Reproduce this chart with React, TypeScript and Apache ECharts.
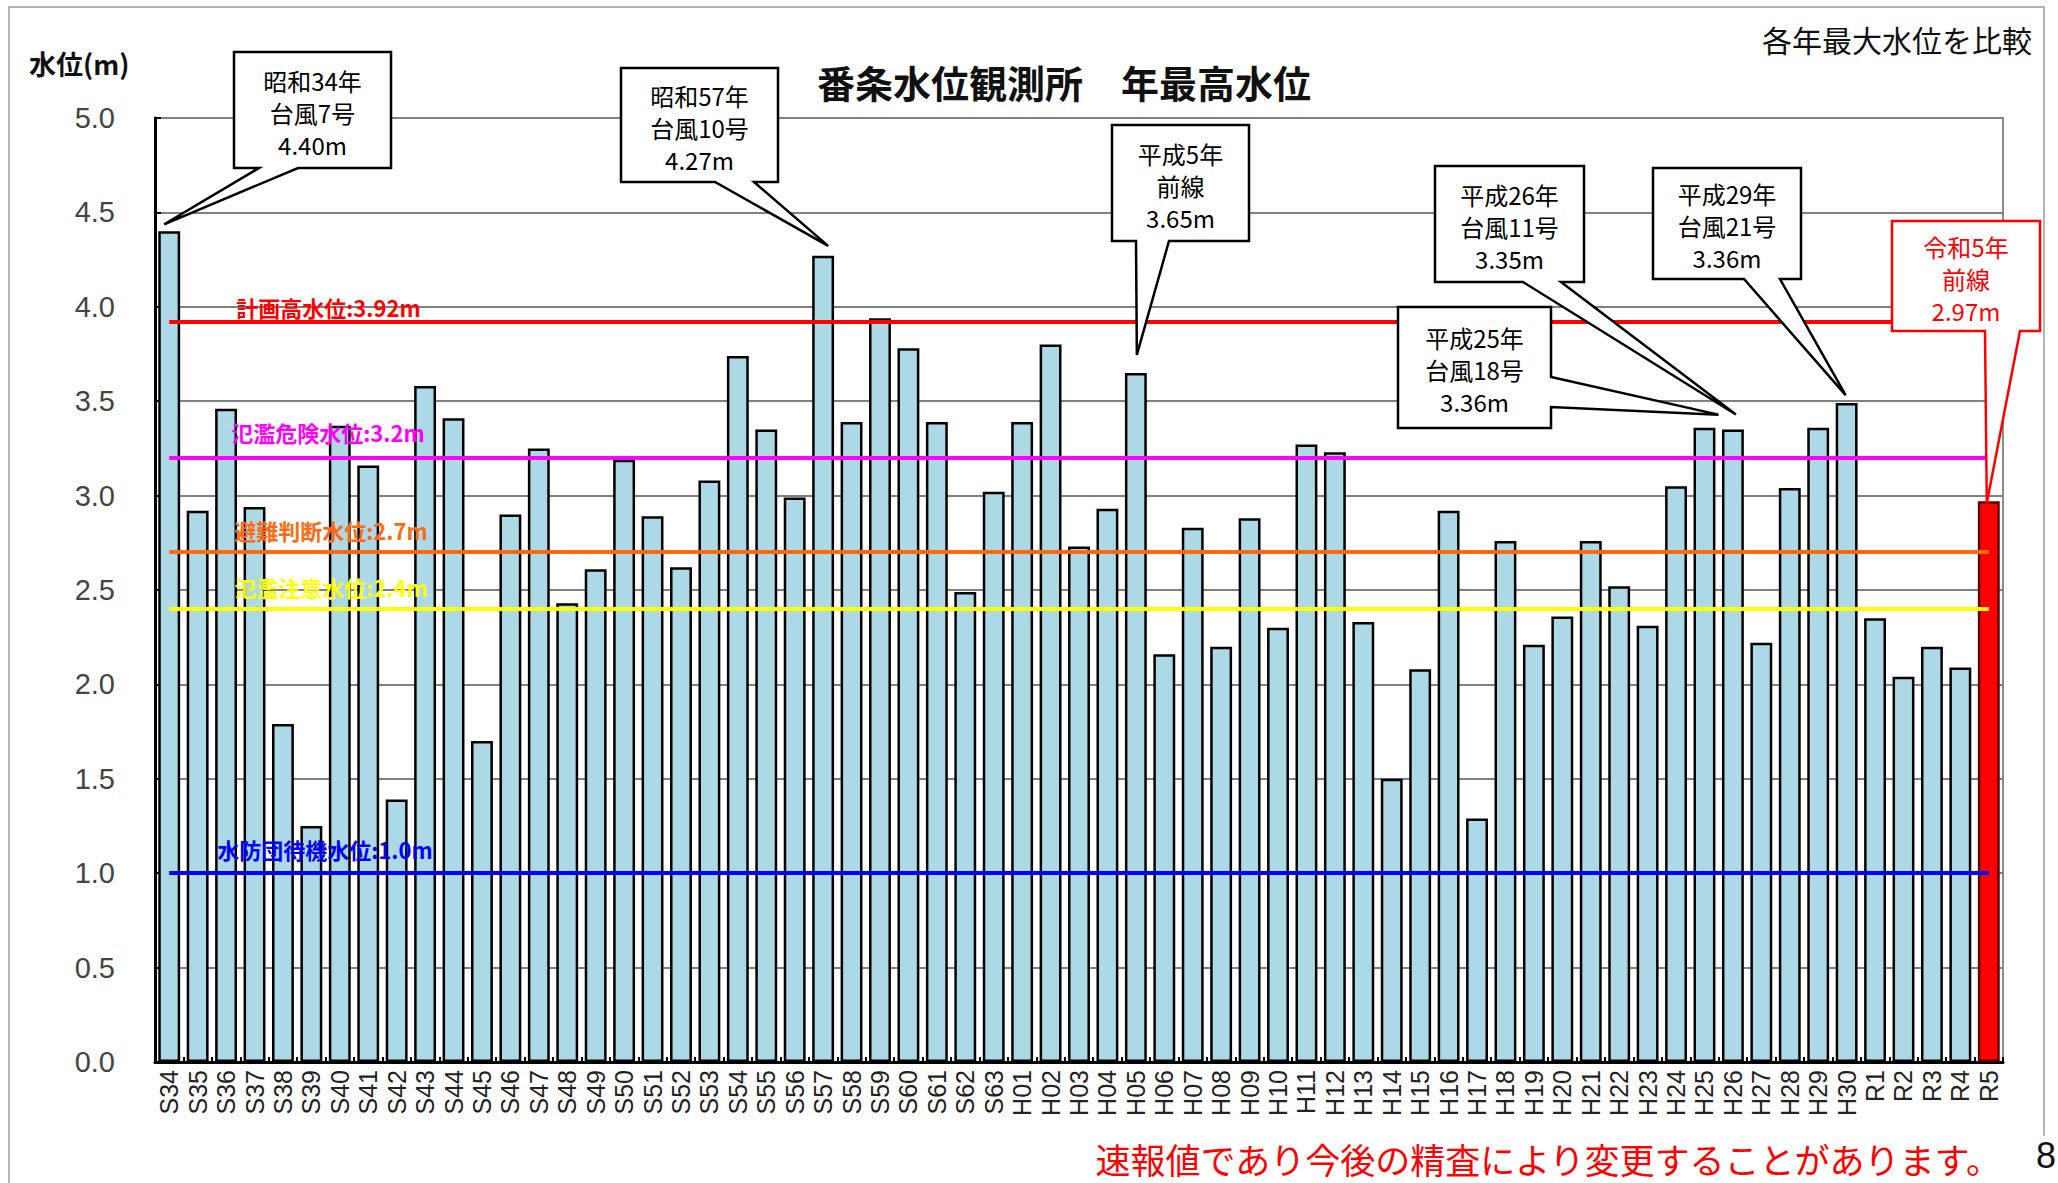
import React, { useEffect, useRef } from "react";
import * as echarts from "echarts";

// ---- data ----
const categories = [
  "S34","S35","S36","S37","S38","S39","S40","S41","S42","S43","S44","S45","S46","S47","S48","S49","S50","S51","S52","S53","S54","S55","S56","S57","S58","S59","S60","S61","S62","S63",
  "H01","H02","H03","H04","H05","H06","H07","H08","H09","H10","H11","H12","H13","H14","H15","H16","H17","H18","H19","H20","H21","H22","H23","H24","H25","H26","H27","H28","H29","H30",
  "R1","R2","R3","R4","R5",
];
const values = [
  4.40, 2.92, 3.46, 2.94, 1.79, 1.25, 3.37, 3.16, 1.39, 3.58, 3.41, 1.70, 2.90, 3.25, 2.43, 2.61, 3.19, 2.89, 2.62, 3.08, 3.74, 3.35, 2.99, 4.27, 3.39, 3.94, 3.78, 3.39, 2.49, 3.02,
  3.39, 3.80, 2.73, 2.93, 3.65, 2.16, 2.83, 2.20, 2.88, 2.30, 3.27, 3.23, 2.33, 1.50, 2.08, 2.92, 1.29, 2.76, 2.21, 2.36, 2.76, 2.52, 2.31, 3.05, 3.36, 3.35, 2.22, 3.04, 3.36, 3.49,
  2.35, 2.04, 2.20, 2.09, 2.97,
];
const highlightCategory = "R5";
const yTicks = { min: 0, max: 5, interval: 0.5 };

const refLineValues = [3.92, 3.2, 2.7, 2.4, 1.0];
const refLineLabels = ["計画高水位:3.92m", "氾濫危険水位:3.2m", "避難判断水位:2.7m", "氾濫注意水位:2.4m", "水防団待機水位:1.0m"];

const annotationCats = ["S34", "S57", "H05", "H26", "H30", "H25", "R5"];
const annotationTexts = [
  "昭和34年\n台風7号\n4.40m",
  "昭和57年\n台風10号\n4.27m",
  "平成5年\n前線\n3.65m",
  "平成26年\n台風11号\n3.35m",
  "平成29年\n台風21号\n3.36m",
  "平成25年\n台風18号\n3.36m",
  "令和5年\n前線\n2.97m",
];

const titleText = "番条水位観測所　年最高水位";
const subTitleText = "各年最大水位を比較";
const yNameText = "水位(m)";
const footerText = "速報値であり今後の精査により変更することがあります。";
const pageNumText = "8";

// ---- styles / layout ----
const refLineStyles = [
  { color: "#ff0000", dist: 4, offset: 63 },
  { color: "#ff00ff", dist: 15, offset: 47 },
  { color: "#ff6a10", dist: 11, offset: 54 },
  { color: "#ffff00", dist: 11, offset: 54 },
  { color: "#0000ff", dist: 13, offset: 35 },
];

const calloutLayout = [
  { x0: 234, y0: 52, x1: 391, y1: 168, side: "bottom", b0: 259, b1: 298, dx: -5, dy: -7, color: "#000" },
  { x0: 621, y0: 68, x1: 778, y1: 182, side: "bottom", b0: 715, b1: 754, dx: 5, dy: -10, color: "#000" },
  { x0: 1112, y0: 125, x1: 1249, y1: 241, side: "bottom", b0: 1136, b1: 1169, dx: 1, dy: -18, color: "#000" },
  { x0: 1435, y0: 166, x1: 1584, y1: 282, side: "bottom", b0: 1523, b1: 1561, dx: 3, dy: -15, color: "#000" },
  { x0: 1653, y0: 168, x1: 1801, y1: 279, side: "bottom", b0: 1744, b1: 1780, dx: -1, dy: -8, color: "#000" },
  { x0: 1398, y0: 307, x1: 1551, y1: 428, side: "right", b0: 377, b1: 407, dx: 14, dy: -13, color: "#000" },
  { x0: 1892, y0: 221, x1: 2040, y1: 331, side: "bottom", b0: 1985, b1: 2020, dx: -2, dy: 2, color: "#ff0000" },
];

const LATIN = "'Liberation Sans', 'Noto Sans CJK JP', sans-serif";
const CJK = "'Noto Sans CJK JP', 'Liberation Sans', sans-serif";

export default function App() {
  const ref = useRef<HTMLDivElement>(null);

  useEffect(() => {
    document.body.style.margin = "0";
    if (!ref.current) return;
    const chart = echarts.init(ref.current, undefined, { renderer: "svg" });
    const last = categories.length - 1;

    const option: any = {
      animation: false,
      backgroundColor: "#ffffff",
      textStyle: { fontFamily: LATIN },
      grid: {
        left: 155,
        right: 55,
        top: 118,
        bottom: 121,
        show: true,
        borderColor: "#8c8c8c",
        borderWidth: 2,
        backgroundColor: "transparent",
      },
      xAxis: {
        type: "category",
        data: categories,
        axisLine: { lineStyle: { color: "#000", width: 3 } },
        axisTick: { show: true, inside: true, length: 5, lineStyle: { color: "#000", width: 2 } },
        axisLabel: { interval: 0, rotate: 90, fontSize: 25, color: "#222", margin: 8, fontFamily: LATIN },
      },
      yAxis: {
        type: "value",
        min: yTicks.min,
        max: yTicks.max,
        interval: yTicks.interval,
        axisLine: { show: true, lineStyle: { color: "#000", width: 3 } },
        axisTick: { show: true, inside: true, length: 6, lineStyle: { color: "#000", width: 2 } },
        axisLabel: { formatter: (v: number) => v.toFixed(1), fontSize: 29, color: "#444", margin: 40, fontFamily: LATIN },
        splitLine: { lineStyle: { color: "#808080", width: 2 } },
      },
      series: [
        {
          type: "bar",
          data: values.map((v, i) =>
            categories[i] === highlightCategory
              ? { value: v, itemStyle: { color: "#ff0000", borderColor: "#5a0000" } }
              : v
          ),
          barWidth: "77%",
          itemStyle: { color: "#add8e6", borderColor: "#000", borderWidth: 2.5 },
          markLine: {
            silent: true,
            symbol: "none",
            animation: false,
            data: refLineValues.map((v, i) => [
              {
                coord: [categories[0], v],
                lineStyle: { color: refLineStyles[i].color, width: 4, type: "solid" },
                label: {
                  show: true,
                  position: "insideStartTop",
                  formatter: refLineLabels[i],
                  color: refLineStyles[i].color,
                  fontSize: 22,
                  fontWeight: "bold",
                  fontFamily: CJK,
                  distance: refLineStyles[i].dist,
                  padding: [0, 0, 0, refLineStyles[i].offset],
                },
              },
              { coord: [categories[last], v] },
            ]),
          },
        },
      ],
    };
    chart.setOption(option);

    const graphics: any[] = [];
    // outer frame
    graphics.push({
      type: "polyline",
      shape: { points: [[9, 1183], [9, 7], [2044, 7], [2044, 1136]] },
      style: { stroke: "#b4b4b4", lineWidth: 2, fill: null },
      z: 1,
    });
    graphics.push({
      type: "text",
      x: 1064,
      y: 81,
      style: { text: titleText, fontSize: 38, fontWeight: "bold", fontFamily: CJK, fill: "#111", align: "center", verticalAlign: "middle" },
      z: 50,
    });
    graphics.push({
      type: "text",
      x: 2032,
      y: 39,
      style: { text: subTitleText, fontSize: 30, fontFamily: CJK, fill: "#111", align: "right", verticalAlign: "middle" },
      z: 50,
    });
    graphics.push({
      type: "text",
      x: 29,
      y: 63,
      style: { text: yNameText, fontSize: 27, fontWeight: "bold", fontFamily: CJK, fill: "#111", align: "left", verticalAlign: "middle" },
      z: 50,
    });
    graphics.push({
      type: "text",
      x: 2001,
      y: 1158,
      style: { text: footerText, fontSize: 35, fontFamily: CJK, fill: "#ff0000", align: "right", verticalAlign: "middle" },
      z: 50,
    });
    graphics.push({
      type: "text",
      x: 2036,
      y: 1155,
      style: { text: pageNumText, fontSize: 36, fontFamily: LATIN, fill: "#111", align: "left", verticalAlign: "middle" },
      z: 50,
    });

    annotationCats.forEach((cat, k) => {
      const idx = categories.indexOf(cat);
      const p = chart.convertToPixel({ xAxisIndex: 0, yAxisIndex: 0 }, [idx, values[idx]]) as number[];
      const L = calloutLayout[k];
      const tip = [p[0] + L.dx, p[1] + L.dy];
      let pts: number[][];
      if (L.side === "bottom") {
        pts = [[L.x0, L.y0], [L.x1, L.y0], [L.x1, L.y1], [L.b1, L.y1], tip, [L.b0, L.y1], [L.x0, L.y1]];
      } else {
        pts = [[L.x0, L.y0], [L.x1, L.y0], [L.x1, L.b0], tip, [L.x1, L.b1], [L.x1, L.y1], [L.x0, L.y1]];
      }
      graphics.push({
        type: "polygon",
        shape: { points: pts },
        style: { fill: "#ffffff", stroke: L.color, lineWidth: 2.5, lineJoin: "miter" },
        z: 100 + k * 2,
      });
      graphics.push({
        type: "text",
        x: (L.x0 + L.x1) / 2,
        y: (L.y0 + L.y1) / 2 + 2,
        style: {
          text: annotationTexts[k],
          fontSize: 24,
          lineHeight: 32,
          fontFamily: CJK,
          fill: L.color,
          align: "center",
          verticalAlign: "middle",
        },
        z: 101 + k * 2,
      });
    });

    chart.setOption({ graphic: graphics });

    return () => chart.dispose();
  }, []);

  return <div ref={ref} style={{ width: 2058, height: 1183 }} />;
}
